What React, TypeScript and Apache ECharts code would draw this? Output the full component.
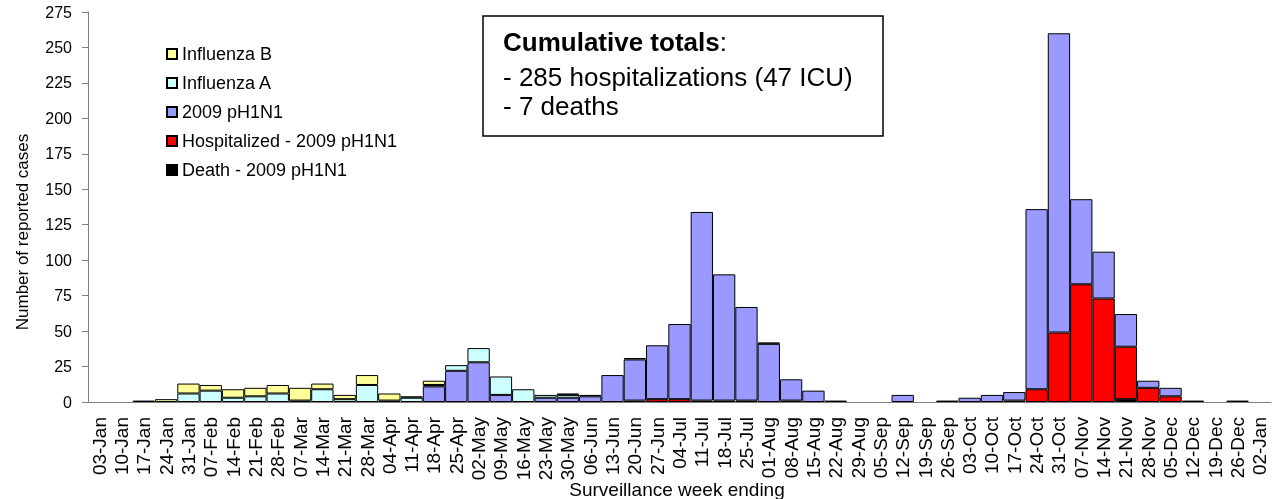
import React, { useEffect, useRef } from 'react';
import * as echarts from 'echarts';

const weeks = [
  '03-Jan', '10-Jan', '17-Jan', '24-Jan', '31-Jan', '07-Feb', '14-Feb', '21-Feb', '28-Feb', '07-Mar',
  '14-Mar', '21-Mar', '28-Mar', '04-Apr', '11-Apr', '18-Apr', '25-Apr', '02-May', '09-May', '16-May',
  '23-May', '30-May', '06-Jun', '13-Jun', '20-Jun', '27-Jun', '04-Jul', '11-Jul', '18-Jul', '25-Jul',
  '01-Aug', '08-Aug', '15-Aug', '22-Aug', '29-Aug', '05-Sep', '12-Sep', '19-Sep', '26-Sep', '03-Oct',
  '10-Oct', '17-Oct', '24-Oct', '31-Oct', '07-Nov', '14-Nov', '21-Nov', '28-Nov', '05-Dec', '12-Dec',
  '19-Dec', '26-Dec', '02-Jan',
];

const death = [
  0, 0, 0, 0, 0, 0, 0, 0, 0, 0,
  0, 0, 0, 0, 0, 0, 0, 0, 0, 0,
  0, 0, 0, 0, 0, 0, 0, 0, 0, 0,
  0, 0, 0, 1, 0, 0, 0, 0, 1, 0,
  0, 1, 0, 0, 0, 0, 2, 0, 0, 1,
  0, 1, 0,
];

const hospitalized = [
  0, 0, 0, 0, 0, 0, 0, 0, 0, 0,
  0, 0, 0, 0, 0, 0, 0, 0, 0, 0,
  0, 0, 0, 0, 1, 2, 2, 1, 1, 1,
  0, 1, 0, 0, 0, 0, 0, 0, 0, 0,
  0, 0, 9, 49, 83, 73, 37, 10, 4, 0,
  0, 0, 0,
];

const pH1N1 = [
  0, 0, 0, 0, 0, 0, 0, 0, 0, 0,
  0, 0, 0, 0, 0, 11, 22, 28, 5, 0,
  3, 3, 4, 19, 29, 38, 53, 133, 89, 66,
  41, 15, 8, 0, 0, 0, 5, 0, 0, 3,
  5, 6, 127, 211, 60, 33, 23, 5, 6, 0,
  0, 0, 0,
];

const influenzaA = [
  0, 0, 1, 0, 6, 8, 3, 4, 6, 1,
  9, 2, 12, 1, 3, 1, 4, 10, 13, 9,
  2, 2, 1, 0, 1, 0, 0, 0, 0, 0,
  1, 0, 0, 0, 0, 0, 0, 0, 0, 0,
  0, 0, 0, 0, 0, 0, 0, 0, 0, 0,
  0, 0, 0,
];

const influenzaB = [
  0, 0, 0, 2, 7, 4, 6, 6, 6, 9,
  4, 3, 7, 5, 1, 3, 0, 0, 0, 0,
  0, 1, 0, 0, 0, 0, 0, 0, 0, 0,
  0, 0, 0, 0, 0, 0, 0, 0, 0, 0,
  0, 0, 0, 0, 0, 0, 0, 0, 0, 0,
  0, 0, 0,
];

const yTicks = { min: 0, max: 275, interval: 25 };

export default function App() {
  const ref = useRef<HTMLDivElement>(null);
  useEffect(() => {
    const chart = echarts.init(ref.current as HTMLDivElement, null, { renderer: 'svg' });
    const font = "'Liberation Sans', Arial, sans-serif";
    const nz = (a: number[]) => a.map((v) => (v === 0 ? null : v));
    const mk = (name: string, data: number[], color: string) => ({
      name,
      type: 'bar',
      stack: 'total',
      data: nz(data),
      barCategoryGap: '0%',
      itemStyle: { color, borderColor: '#000', borderWidth: 1 },
      emphasis: { disabled: true },
    });
    chart.setOption({
      animation: false,
      grid: { left: 88, right: 3, top: 12, bottom: 97 },
      legend: {
        orient: 'vertical',
        left: 161,
        top: 40,
        itemWidth: 10,
        itemHeight: 10,
        itemGap: 11,
        icon: 'rect',
        textStyle: { fontSize: 18, color: '#000', fontFamily: font },
        data: ['Influenza B', 'Influenza A', '2009 pH1N1', 'Hospitalized - 2009 pH1N1', 'Death - 2009 pH1N1'],
      },
      xAxis: {
        type: 'category',
        data: weeks,
        boundaryGap: true,
        axisLine: { lineStyle: { color: '#808080', width: 1 } },
        axisTick: { interval: 0, length: 6, lineStyle: { color: '#808080' } },
        axisLabel: { interval: 0, rotate: 90, fontSize: 19, color: '#000', fontFamily: font, margin: 15 },
      },
      yAxis: {
        type: 'value',
        min: yTicks.min,
        max: yTicks.max,
        interval: yTicks.interval,
        axisLine: { show: true, lineStyle: { color: '#808080', width: 1 } },
        axisTick: { show: true, length: 6, lineStyle: { color: '#808080' } },
        splitLine: { show: false },
        axisLabel: { fontSize: 16, color: '#000', fontFamily: font, margin: 16 },
      },
      series: [
        mk('Death - 2009 pH1N1', death, '#000000'),
        mk('Hospitalized - 2009 pH1N1', hospitalized, '#FF0000'),
        mk('2009 pH1N1', pH1N1, '#9999FF'),
        mk('Influenza A', influenzaA, '#CCFFFF'),
        mk('Influenza B', influenzaB, '#FFFF99'),
      ],
      graphic: [
        {
          type: 'rect',
          shape: { x: 483, y: 16, width: 400, height: 120 },
          style: { fill: '#fff', stroke: '#000', lineWidth: 1.5 },
          z: 10,
        },
        {
          type: 'text',
          x: 503,
          y: 42,
          z: 11,
          style: {
            text: '{b|Cumulative totals}{n|:}',
            verticalAlign: 'middle',
            rich: {
              b: { fontWeight: 'bold', fontSize: 26, fontFamily: font, fill: '#000' },
              n: { fontSize: 26, fontFamily: font, fill: '#000' },
            },
          },
        },
        {
          type: 'text',
          x: 503,
          y: 77,
          z: 11,
          style: { text: '- 285 hospitalizations (47 ICU)', fontSize: 26, fontFamily: font, fill: '#000', verticalAlign: 'middle' },
        },
        {
          type: 'text',
          x: 503,
          y: 106,
          z: 11,
          style: { text: '- 7 deaths', fontSize: 26, fontFamily: font, fill: '#000', verticalAlign: 'middle' },
        },
        {
          type: 'text',
          x: 22,
          y: 232,
          rotation: Math.PI / 2,
          style: { text: 'Number of reported cases', fontSize: 17, fontFamily: font, fill: '#000', align: 'center', verticalAlign: 'middle' },
        },
        {
          type: 'text',
          x: 677,
          y: 489,
          style: { text: 'Surveillance week ending', fontSize: 19, fontFamily: font, fill: '#000', align: 'center', verticalAlign: 'middle' },
        },
      ],
    });
    return () => chart.dispose();
  }, []);
  return <div ref={ref} style={{ position: 'fixed', left: 0, top: 0, width: 1274, height: 499 }} />;
}
